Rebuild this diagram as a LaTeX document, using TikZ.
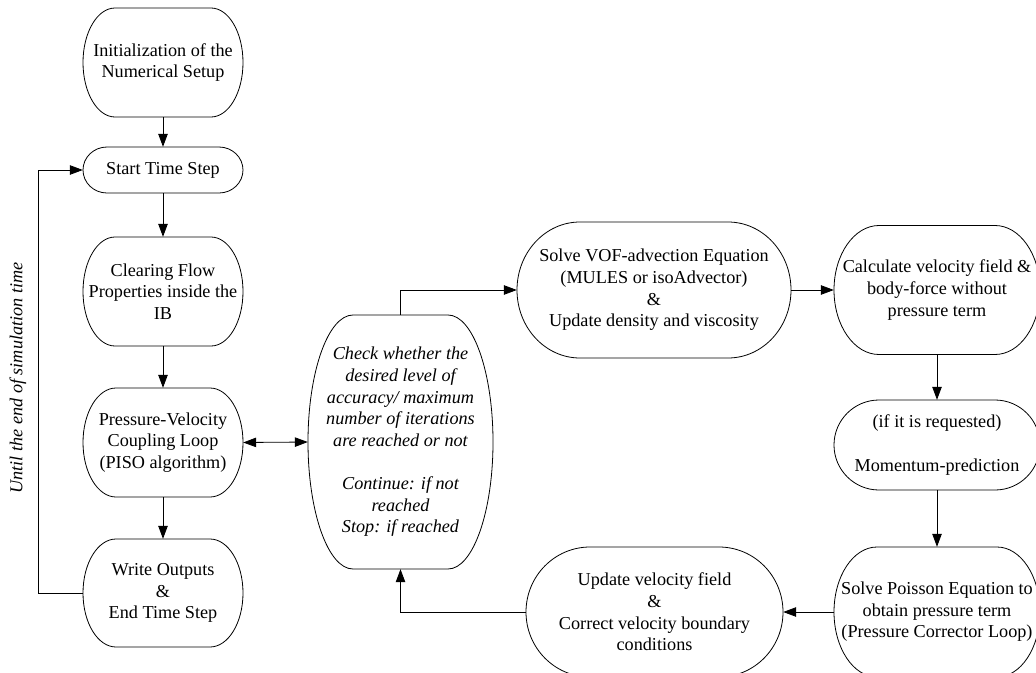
\documentclass[tikz,border=0pt]{standalone}
\usepackage{fontspec}
\setmainfont{Liberation Serif}
\usetikzlibrary{arrows.meta}
\tikzset{
  boxline/.style={draw=black, line width=0.8pt},
  txt/.style={draw=none, inner sep=0pt, align=center, font=\fontsize{18.2}{21.6}\selectfont},
  conn/.style={draw=black, line width=0.8pt, -{Triangle[length=13pt,width=9.5pt]}},
  dconn/.style={draw=black, line width=0.8pt, {Triangle[length=13pt,width=9.5pt]}-{Triangle[length=13pt,width=9.5pt]}},
  plain/.style={draw=black, line width=0.8pt}
}
% name, cx, cy, w, h, rx, text
\newcommand\tbox[7]{%
  \pgfmathsetmacro\tbxa{#2-#4/2+#6}%
  \pgfmathsetmacro\tbxb{#2+#4/2-#6}%
  \pgfmathsetmacro\tbya{#3-#5/2}%
  \pgfmathsetmacro\tbyb{#3+#5/2}%
  \pgfmathsetmacro\tbry{#5/2}%
  \draw[boxline] (\tbxa,\tbya) -- (\tbxb,\tbya)
     arc[start angle=90,end angle=-90,x radius=#6pt,y radius=\tbry pt]
     -- (\tbxa,\tbyb)
     arc[start angle=270,end angle=90,x radius=#6pt,y radius=\tbry pt] -- cycle;
  \node[txt, minimum width=#4pt, minimum height=#5pt] (#1) at (#2,#3) {#7};
}
\begin{document}
\begin{tikzpicture}[x=1pt,y=-1pt]
\useasboundingbox (0,0) rectangle (1036,672);
\clip (0,0) rectangle (1036,672);

\tbox{init}{163}{62.5}{160}{109}{32}{Initialization of the\\Numerical Setup}
\tbox{start}{163}{170}{160}{46}{24}{Start Time Step}
\tbox{clear}{163}{291.5}{160}{109}{32}{Clearing Flow\\Properties inside the\\IB}
\tbox{pv}{163}{442.5}{160}{109}{33}{Pressure-Velocity\\Coupling Loop\\(PISO algorithm)}
\tbox{write}{163}{593}{160}{108}{33}{Write Outputs\\\&\\End Time Step}
\tbox{check}{400.5}{442}{185}{254}{45}{\itshape Check whether the\\\itshape desired level of\\\itshape accuracy/ maximum\\\itshape number of iterations\\\itshape are reached or not\\[21.6pt]\itshape Continue: if not\\\itshape reached\\\itshape Stop: if reached}
\tbox{vof}{654}{290}{274}{136}{63}{Solve VOF-advection Equation\\(MULES or isoAdvector)\\\&\\Update density and viscosity}
\tbox{calc}{937}{290}{206}{129}{45}{Calculate velocity field \&\\body-force without\\pressure term}
\tbox{mom}{937}{445}{206}{90}{45}{(if it is requested)\\[21.6pt]Momentum-prediction}
\tbox{poi}{937}{612}{206}{130}{43}{Solve Poisson Equation to\\obtain pressure term\\(Pressure Corrector Loop)}
\tbox{upd}{654.5}{612}{257}{130}{64}{Update velocity field\\\&\\Correct velocity boundary\\conditions}

\node[txt, rotate=90, font=\fontsize{18.2}{21.6}\selectfont\itshape] (lbl) at (18,378) {Until the end of simulation time};

\draw[conn] (init.south) -- (start.north);
\draw[conn] (start.south) -- (clear.north);
\draw[conn] (clear.south) -- (pv.north);
\draw[conn] (pv.south) -- (write.north);
\draw[conn] (write.west) -- ++(-44,0) |- (start.west);
\draw[dconn] (pv.east) -- (check.west);
\draw[conn] (check.north) |- (vof.west);
\draw[conn] (vof.east) -- (calc.west);
\draw[conn] (calc.south) -- (mom.north);
\draw[conn] (mom.south) -- (poi.north);
\draw[conn] (poi.west) -- (upd.east);
\draw[conn] (upd.west) -| (check.south);
\end{tikzpicture}
\end{document}
